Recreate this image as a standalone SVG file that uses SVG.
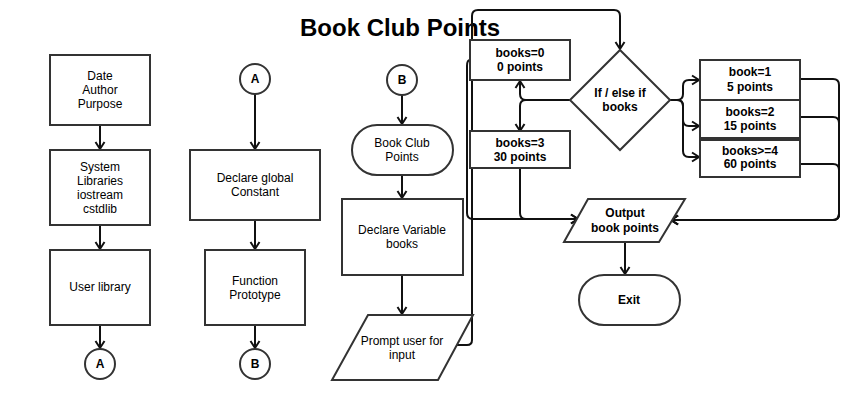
<svg xmlns="http://www.w3.org/2000/svg" width="864" height="400" viewBox="0 0 864 400">
<style>
.s{fill:#fff;stroke:#333;stroke-width:2}
.t{font-family:"Liberation Sans",Arial,sans-serif;font-size:12px;fill:#000;text-anchor:middle}
.b{font-weight:bold}
.c{fill:none;stroke:#111;stroke-width:2}
.title{font-family:"Liberation Sans",Arial,sans-serif;font-size:24px;font-weight:bold;fill:#000}
</style>
<defs>
<marker id="arr" markerUnits="userSpaceOnUse" markerWidth="12" markerHeight="12" viewBox="0 0 12 12" refX="10" refY="6" orient="auto">
<path d="M3,1.5 L10,6 L3,10.5" fill="none" stroke="#111" stroke-width="2"/>
</marker>
</defs>
<rect width="864" height="400" fill="#fff"/>
<text class="title" x="300" y="36">Book Club Points</text>

<g id="connectors" class="c" marker-end="url(#arr)">
<path class="c" d="M100,125 V149" marker-end="url(#arr)"/>
<path class="c" d="M100,225 V249" marker-end="url(#arr)"/>
<path class="c" d="M100,325 V348" marker-end="url(#arr)"/>
<path class="c" d="M255,94 V149" marker-end="url(#arr)"/>
<path class="c" d="M255,220 V249" marker-end="url(#arr)"/>
<path class="c" d="M255,325 V348" marker-end="url(#arr)"/>
<path class="c" d="M402,95 V124" marker-end="url(#arr)"/>
<path class="c" d="M402,175 V198" marker-end="url(#arr)"/>
<path class="c" d="M402,275 V314" marker-end="url(#arr)"/>
<path class="c" d="M457,345 H467 Q472,345 472,340 V16 Q472,10 478,10 H614 Q620,10 620,16 V49" marker-end="url(#arr)"/>
<path class="c" d="M470,60 Q467,60 467,66 V213 Q467,219 473,219 H578" marker-end="url(#arr)"/>
<path class="c" d="M520,168 V213 Q520,219 526,219 H578" marker-end="url(#arr)"/>
<path class="c" d="M570,100 H526 Q520,100 520,94 V81" marker-end="url(#arr)"/>
<path class="c" d="M570,100 H526 Q520,100 520,106 V131" marker-end="url(#arr)"/>
<path class="c" d="M670,100 H677 Q683,100 683,94 V86 Q683,80 689,80 H699" marker-end="url(#arr)"/>
<path class="c" d="M670,100 H677 Q683,100 683,106 V120 Q683,126 689,126 H699" marker-end="url(#arr)"/>
<path class="c" d="M670,100 H677 Q683,100 683,106 V151 Q683,157 689,157 H699" marker-end="url(#arr)"/>
<path class="c" d="M800,79 H833 Q839,79 839,85 V214 Q839,220 833,220 H671" marker-end="url(#arr)"/>
<path class="c" d="M800,117 H833 Q839,117 839,123 V214 Q839,220 833,220 H671" marker-end="url(#arr)"/>
<path class="c" d="M800,164 H833 Q839,164 839,170 V214 Q839,220 833,220 H671" marker-end="url(#arr)"/>
<path class="c" d="M625,242 V274" marker-end="url(#arr)"/>
</g>

<g id="n-header"><rect class="s" x="50" y="55" width="100" height="70"/>
<text class="t" x="100" y="80">Date</text><text class="t" x="100" y="94">Author</text><text class="t" x="100" y="108">Purpose</text></g>
<g id="n-syslib"><rect class="s" x="50" y="150" width="100" height="75"/>
<text class="t" x="100" y="171">System</text><text class="t" x="100" y="185">Libraries</text><text class="t" x="100" y="199">iostream</text><text class="t" x="100" y="213">cstdlib</text></g>
<g id="n-userlib"><rect class="s" x="50" y="250" width="100" height="75"/>
<text class="t" x="100" y="291">User library</text></g>
<g id="n-a1"><circle class="s" cx="100" cy="364" r="15"/><text class="t b" x="100" y="368">A</text></g>

<g id="n-a2"><circle class="s" cx="255" cy="79" r="15"/><text class="t b" x="255" y="83">A</text></g>
<g id="n-global"><rect class="s" x="190" y="150" width="130" height="70"/>
<text class="t" x="255" y="182">Declare global</text><text class="t" x="255" y="196">Constant</text></g>
<g id="n-proto"><rect class="s" x="205" y="250" width="100" height="75"/>
<text class="t" x="255" y="285">Function</text><text class="t" x="255" y="299">Prototype</text></g>
<g id="n-b1"><circle class="s" cx="255" cy="364" r="15"/><text class="t b" x="255" y="368">B</text></g>

<g id="n-b2"><circle class="s" cx="402" cy="80" r="15"/><text class="t b" x="402" y="84">B</text></g>
<g id="n-start"><rect class="s" x="352" y="125" width="101" height="50" rx="25"/>
<text class="t" x="402" y="147">Book Club</text><text class="t" x="402" y="161">Points</text></g>
<g id="n-var"><rect class="s" x="342" y="199" width="121" height="76"/>
<text class="t" x="402" y="234">Declare Variable</text><text class="t" x="402" y="248">books</text></g>
<g id="n-prompt"><polygon class="s" points="368,315 473,315 438,380 332,380"/>
<text class="t" x="402" y="345">Prompt user for</text><text class="t" x="402" y="359">input</text></g>

<g id="n-b0"><rect class="s" x="470" y="40" width="100" height="40"/>
<text class="t b" x="520" y="57">books=0</text><text class="t b" x="520" y="71">0 points</text></g>
<g id="n-b3"><rect class="s" x="470" y="131" width="100" height="37"/>
<text class="t b" x="520" y="147">books=3</text><text class="t b" x="520" y="161">30 points</text></g>
<g id="n-if"><polygon class="s" points="620,50 670,100 620,150 570,100"/>
<text class="t b" x="620" y="97">If / else if</text><text class="t b" x="620" y="111">books</text></g>
<g id="n-b1box"><rect class="s" x="700" y="60" width="100" height="40"/>
<text class="t b" x="750" y="76">book=1</text><text class="t b" x="750" y="91">5 points</text></g>
<g id="n-b2box"><rect class="s" x="700" y="100" width="100" height="38"/>
<text class="t b" x="750" y="116">books=2</text><text class="t b" x="750" y="130">15 points</text></g>
<g id="n-b4box"><rect class="s" x="700" y="140" width="100" height="37"/>
<text class="t b" x="750" y="155">books&gt;=4</text><text class="t b" x="750" y="168">60 points</text></g>
<g id="n-output"><polygon class="s" points="588,199 685,199 659,242 564,242"/>
<text class="t b" x="625" y="217">Output</text><text class="t b" x="625" y="232">book points</text></g>
<g id="n-exit"><rect class="s" x="579" y="275" width="101" height="50" rx="25"/>
<text class="t b" x="629" y="304">Exit</text></g>
</svg>
